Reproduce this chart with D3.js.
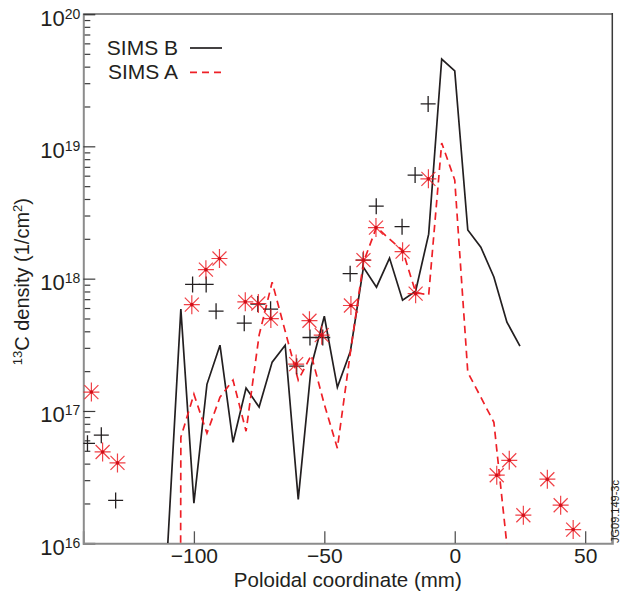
<!DOCTYPE html>
<html><head><meta charset="utf-8">
<script src="https://cdn.jsdelivr.net/npm/d3@7"></script>
<style>
html,body{margin:0;padding:0;background:#fff;}
svg{display:block;font-family:"Liberation Sans",Arial,Helvetica,sans-serif;}
</style></head>
<body>
<svg id="chart" width="622" height="599"></svg>
<script>
// ---- data ----
const xDomain = [-142.4, 60.4];
const yDomain = [1e16, 1e20];
const xTicks = [-100, -50, 0, 50];
const xTickLabels = ["\u2212100", "\u221250", "0", "50"];
const yTicks = [1e16, 1e17, 1e18, 1e19, 1e20];
const yTickExponents = ["16", "17", "18", "19", "20"];

const simsBX = [-110,-105,-100,-95,-90,-85,-80,-75,-70,-65,-60,-55,-50,-45,-40,-35,-30,-25,-20,-15,-10,-5,0,5,10,15,20,25];
const simsBY = [1e16,5.88e17,2.01e16,1.59e17,3.14e17,5.8e16,1.49e17,1.07e17,2.34e17,3.14e17,2.15e16,2.18e17,5.2e17,1.51e17,2.83e17,1.22e18,8.63e17,1.43e18,6.88e17,8.04e17,2.17e18,4.57e19,3.71e19,2.33e18,1.73e18,1.03e18,4.69e17,3.09e17];

const simsAX = [-110,-105,-100,-95,-90,-85,-80,-75,-70,-65,-60,-55,-50,-45,-40,-35,-30,-25,-20,-15,-10,-5,0,5,10,15,20];
const simsAY = [1e-30,6.33e16,1.34e17,6.79e16,1.27e17,1.71e17,7.03e16,3.74e17,9.41e17,4.01e17,1.71e17,2.64e17,1.12e17,5.23e16,2.78e17,1.33e18,2.45e18,1.99e18,1.64e18,7.9e17,7.5e17,1.06e19,5.56e18,1.96e17,1.27e17,8.22e16,9.7e15];

const plusX = [-140.8,-135.5,-130,-100.5,-95.3,-91.5,-80.7,-75.5,-70.6,-60.6,-55.5,-50.6,-40.1,-35.1,-30.1,-20.2,-15.2,-10.2];
const plusY = [5.7e16,6.56e16,2.11e16,9.04e17,9.04e17,5.68e17,4.61e17,6.42e17,5.88e17,2.18e17,3.59e17,3.59e17,1.09e18,1.38e18,3.53e18,2.47e18,6.06e18,2.09e19];

const starX = [-139.3,-135,-129.3,-100.8,-95.4,-90.2,-80.3,-75.3,-70.5,-60.8,-55.7,-51,-39.8,-35,-30.2,-20,-15,-10.1,16.1,20.9,26.3,35.5,40.6,45.4];
const starY = [1.39e17,4.9e16,4.05e16,6.36e17,1.17e18,1.42e18,6.68e17,6.49e17,4.99e17,2.26e17,4.81e17,3.74e17,6.27e17,1.38e18,2.43e18,1.6e18,7.7e17,5.68e18,3.27e16,4.24e16,1.63e16,3.05e16,1.94e16,1.27e16];

const legendNames = ["SIMS B", "SIMS A"];

// ---- layout ----
const L = 83.3, R = 612.3, T = 14, B = 543.3;
const RED = "#ee2027", BLK = "#231f20";
const svg = d3.select("#chart");
const x = d3.scaleLinear().domain(xDomain).range([L, R]);
const y = d3.scaleLog().domain(yDomain).range([B, T]);

svg.append("defs").append("clipPath").attr("id","clip")
  .append("rect").attr("x",L).attr("y",T).attr("width",R-L).attr("height",B-T);

// frame: top and right
svg.append("line").attr("x1",L).attr("x2",R).attr("y1",T).attr("y2",T)
  .attr("stroke","#8c8c8c").attr("stroke-width",2);
svg.append("line").attr("x1",R).attr("x2",R).attr("y1",T-1).attr("y2",B)
  .attr("stroke","#3a3a3a").attr("stroke-width",1.5);

// y axis (log) major + minor ticks pointing inward
const minor = [];
yTicks.slice(0,-1).forEach(d => { for (let k=2;k<=9;k++) minor.push(d*k); });
const yAxisMinor = d3.axisLeft(y).tickValues(minor).tickSize(-7).tickFormat("");
const gyMinor = svg.append("g").attr("transform",`translate(${L},0)`).call(yAxisMinor);
gyMinor.select(".domain").remove();
gyMinor.selectAll(".tick line").attr("stroke","#3a3a3a").attr("stroke-width",1.2);

const yAxis = d3.axisLeft(y).tickValues(yTicks).tickSize(-12).tickFormat("");
const gy = svg.append("g").attr("transform",`translate(${L},0)`).call(yAxis);
gy.select(".domain").attr("stroke","#8c8c8c").attr("stroke-width",2);
gy.selectAll(".tick line").attr("stroke","#3a3a3a").attr("stroke-width",1.2);
gy.selectAll(".tick").append("text")
  .attr("x",-3).attr("y",11).attr("text-anchor","end")
  .attr("fill",BLK).attr("font-size",22)
  .each(function(d,i){
    const t = d3.select(this);
    t.append("tspan").text("10");
    t.append("tspan").attr("font-size",14).attr("dy",-7).text(yTickExponents[i]);
  });

// x axis
const xAxis = d3.axisBottom(x).tickValues(xTicks).tickSize(-12).tickFormat((d,i)=>xTickLabels[i]);
const gx = svg.append("g").attr("transform",`translate(0,${B})`).call(xAxis);
gx.select(".domain").attr("stroke","#8c8c8c").attr("stroke-width",2);
gx.selectAll(".tick line").attr("stroke","#555").attr("stroke-width",1.3);
gx.selectAll(".tick text").attr("y",20).attr("dy",0).attr("fill",BLK)
  .attr("font-size",21).attr("font-family","Liberation Sans,Arial,sans-serif");

// axis titles
svg.append("text").attr("x",(L+R)/2).attr("y",587).attr("text-anchor","middle")
  .attr("font-size",20.5).attr("fill",BLK).text("Poloidal coordinate (mm)");
const yl = svg.append("text").attr("transform",`translate(29,${(T+B)/2+3}) rotate(-90)`)
  .attr("text-anchor","middle").attr("font-size",20).attr("fill",BLK);
yl.append("tspan").attr("font-size",13).attr("dy",-7).text("13");
yl.append("tspan").attr("dy",7).text("C density (1/cm");
yl.append("tspan").attr("font-size",13).attr("dy",-7).text("2");
yl.append("tspan").attr("dy",7).text(")");

// side label
svg.append("text").attr("transform",`translate(619,543) rotate(-90)`)
  .attr("font-size",11).attr("fill",BLK).text("JG09.149-3c");

// plot contents
const plot = svg.append("g").attr("clip-path","url(#clip)");
const line = d3.line().x(d=>x(d[0])).y(d=>y(d[1]));
plot.append("path").datum(simsBX.map((d,i)=>[d,simsBY[i]]))
  .attr("d",line).attr("fill","none").attr("stroke",BLK).attr("stroke-width",1.7)
  .attr("stroke-linejoin","miter");
plot.append("path").datum(simsAX.map((d,i)=>[d,simsAY[i]]))
  .attr("d",line).attr("fill","none").attr("stroke",RED).attr("stroke-width",1.7)
  .attr("stroke-dasharray","7.5,5");

// plus markers
const pg = plot.selectAll("g.plus").data(plusX.map((d,i)=>[d,plusY[i]])).join("g")
  .attr("class","plus").attr("transform",d=>`translate(${x(d[0])},${y(d[1])})`);
pg.append("path").attr("d","M-7.5,0H7.5M0,-8V8").attr("stroke",BLK).attr("stroke-width",1.3);

// asterisk markers
const sg = plot.selectAll("g.star").data(starX.map((d,i)=>[d,starY[i]])).join("g")
  .attr("class","star").attr("transform",d=>`translate(${x(d[0])},${y(d[1])})`);
sg.append("path").attr("d","M-8,0H8M0,-9.5V9.5M-7,-7L7,7M-7,7L7,-7")
  .attr("stroke",RED).attr("stroke-width",1.2).attr("opacity",0.85);
sg.append("circle").attr("r",1.8).attr("fill","#d0101a");

// legend
const leg = svg.append("g");
[0,1].forEach(i=>{
  const yy = 48 + i*24.3;
  leg.append("text").attr("x",178).attr("y",yy+7).attr("text-anchor","end")
    .attr("font-size",21).attr("fill",BLK).text(legendNames[i]);
  leg.append("line").attr("x1",190).attr("x2",222).attr("y1",yy).attr("y2",yy)
    .attr("stroke", i===0?BLK:RED).attr("stroke-width",1.7)
    .attr("stroke-dasharray", i===0?null:"7,5");
});
</script>
</body></html>
